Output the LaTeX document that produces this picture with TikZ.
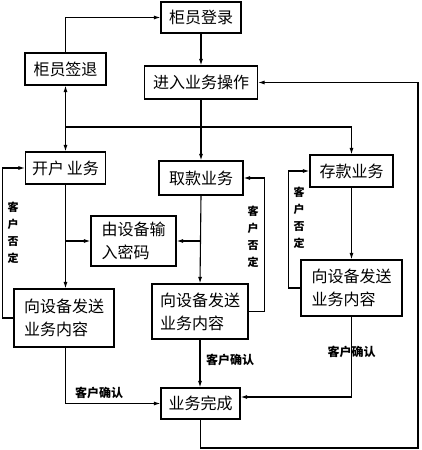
\documentclass[tikz,border=0pt]{standalone}
\usepackage{fontspec}
\newfontfamily\cjk{Noto Sans CJK SC}
\usetikzlibrary{arrows.meta}
\begin{document}
\begin{tikzpicture}[x=1pt,y=-1pt, line width=1.1pt,
  box/.style={draw, line width=1.1pt, inner sep=0pt, font=\cjk\fontsize{16}{23}\selectfont, align=center},
  box2/.style={box, align=left},
  arr/.style={-{Latex[length=6.5pt,width=4pt]}},
  darr/.style={{Latex[length=6.5pt,width=4pt]}-{Latex[length=6.5pt,width=4pt]}},
  lab/.style={font=\cjk\bfseries\fontsize{12}{14}\selectfont, inner sep=0pt},
  vlab/.style={font=\cjk\bfseries\fontsize{11}{17}\selectfont, align=center, inner sep=0pt}]
\useasboundingbox (0,0) rectangle (421,450);
% boxes
\node[box, minimum width=80pt, minimum height=31pt] (dl) at (201,17.5) {柜员登录};
\node[box, minimum width=81pt, minimum height=32pt] (qt) at (65.5,69) {柜员签退};
\node[box, minimum width=113pt, minimum height=33pt] (jr) at (201,82.5) {进入业务操作};
\node[box, minimum width=80pt, minimum height=32pt] (kh) at (65.5,168) {开户\,业务};
\node[box, minimum width=84pt, minimum height=34pt] (qk) at (201,178) {取款业务};
\node[box, minimum width=83pt, minimum height=32pt] (ck) at (351.5,171) {存款业务};
\node[box2, minimum width=85pt, minimum height=50pt] (sr) at (133.5,241) {由设备输\\入密码};
\node[box2, minimum width=100pt, minimum height=58pt] (s1) at (64,318) {向设备发送\\业务内容};
\node[box2, minimum width=96pt, minimum height=55pt] (s2) at (200,311.5) {向设备发送\\业务内容};
\node[box2, minimum width=101pt, minimum height=56pt] (s3) at (351.5,288) {向设备发送\\业务内容};
\node[box, minimum width=79pt, minimum height=31pt] (wc) at (200.5,403.5) {业务完成};
% labels
\node[vlab] (n1) at (13,233) {客\\户\\否\\定};
\node[vlab] (n2) at (253,237) {客\\户\\否\\定};
\node[vlab] (n3) at (299,218) {客\\户\\否\\定};
\node[lab] (c1) at (99,393) {客户确认};
\node[lab] (c2) at (230,360) {客户确认};
\node[lab] (c3) at (351.5,352) {客户确认};
% coordinates
\coordinate (h1) at (65.5,127);
\coordinate (b1) at (200.5,448);
\coordinate (r1) at (418,448);
% connectors
\draw[arr] (qt.north) |- (dl.west);
\draw[arr] (dl.south) -- (jr.north);
\draw[arr] (jr.south) -- (qk.north);
\draw[darr] (qt.south) -- (kh.north);
\draw[arr] (h1) -| (ck.north);
\draw[arr] (kh.south) -- (kh.south |- s1.north);
\draw[arr] (kh.south |- sr.west) -- (sr.west);
\draw[arr] (qk.south |- sr.east) -- (sr.east);
\draw[arr] (qk.south) -- (s2.north);
\draw[arr] (ck.south) -- (s3.north);
\draw[arr] (s1.west) -- ++(-11,0) |- (kh.west);
\draw[arr] (s2.east) -- ++(16,0) |- (qk.east);
\draw[arr] (s3.west) -- ++(-12,0) |- (ck.west);
\draw[arr] (kh.south |- s1.south) |- (wc.west);
\draw[arr] (s2.south) -- (s2.south |- wc.north);
\draw[arr] (s3.south) |- ([yshift=6.5pt]wc.east);
\draw[arr] (wc.south) -- (b1) -- (r1) |- (jr.east);
\end{tikzpicture}
\end{document}
